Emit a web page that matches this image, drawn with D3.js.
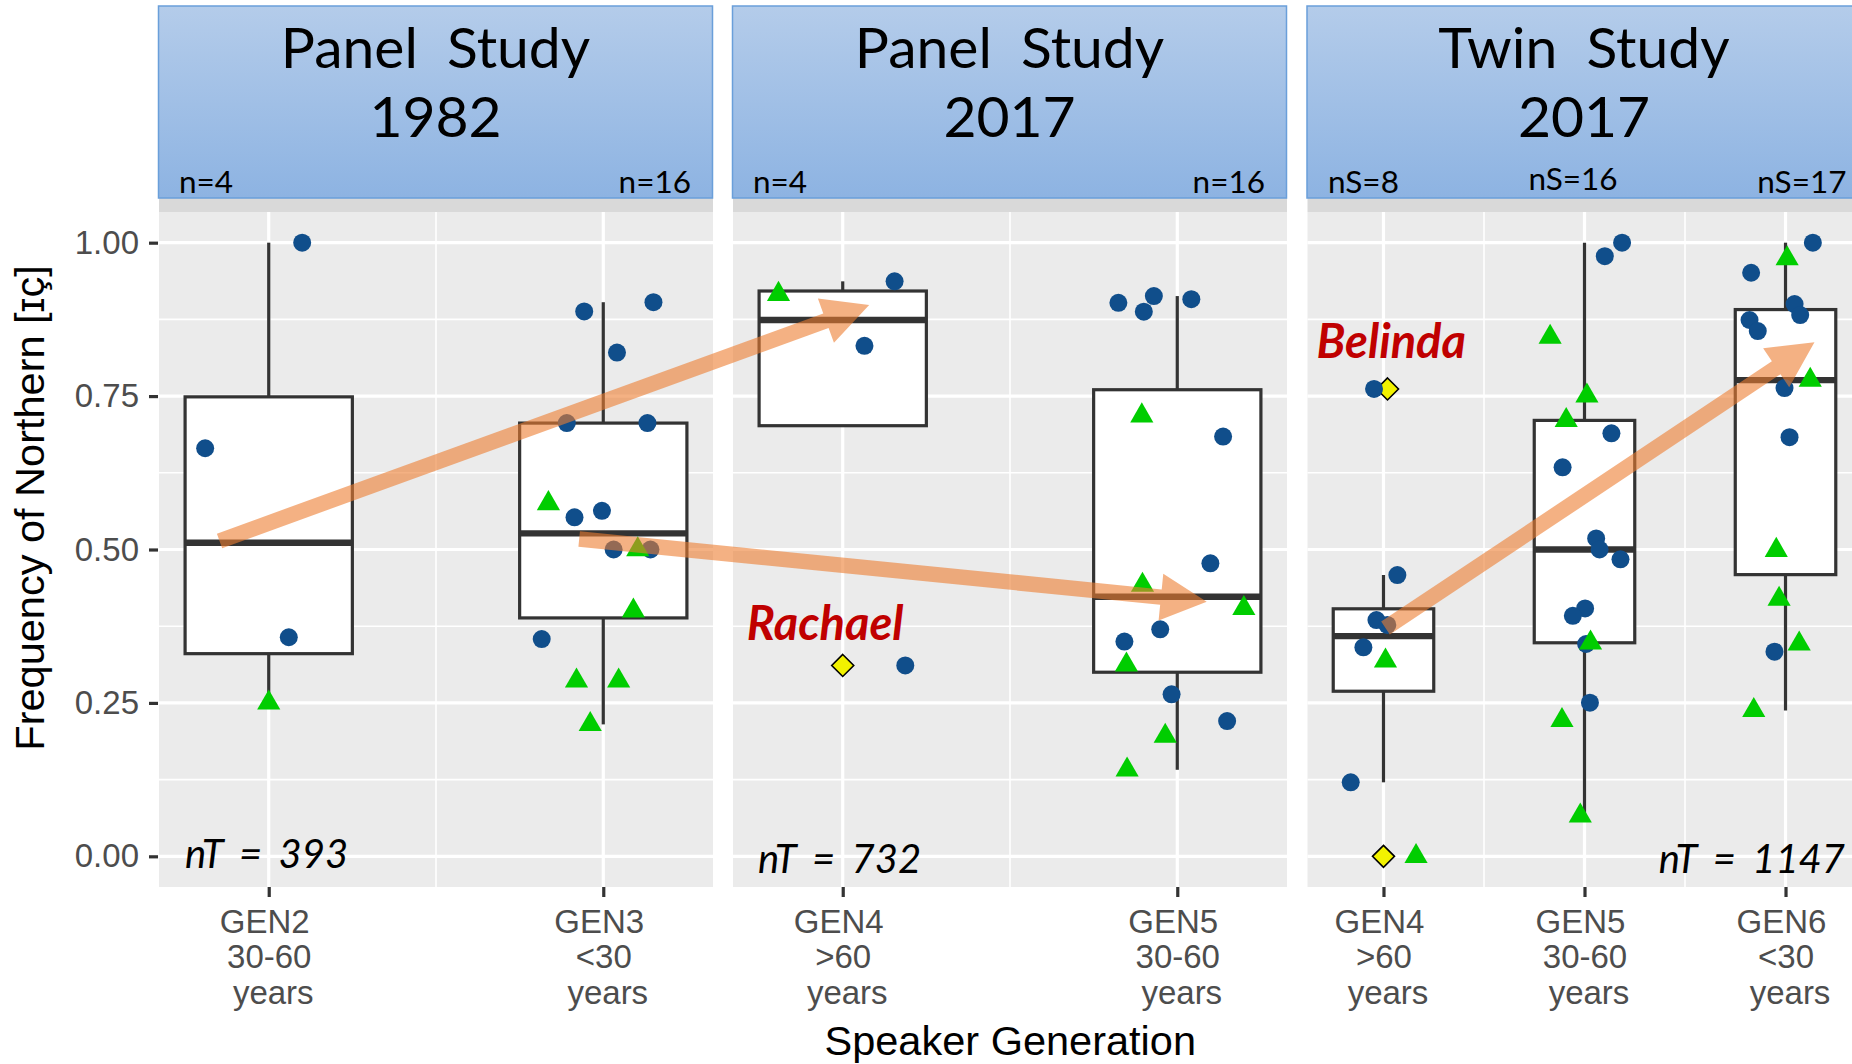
<!DOCTYPE html>
<html>
<head>
<meta charset="utf-8">
<script src="https://cdn.jsdelivr.net/npm/d3@7"></script>
<style>
  body { margin: 0; background: #ffffff; }
  svg { display: block; }
</style>
</head>
<body>
<svg id="chart" width="1852" height="1064"></svg>
<script>
// ---------------- data ----------------
const facetTitles = [["Panel  Study", "1982"], ["Panel  Study", "2017"], ["Twin  Study", "2017"]];
const facetCategories = [["GEN2", "GEN3"], ["GEN4", "GEN5"], ["GEN4", "GEN5", "GEN6"]];
const categoryLabels = [
  [["GEN2", "30-60", "years"], ["GEN3", "<30", "years"]],
  [["GEN4", ">60", "years"], ["GEN5", "30-60", "years"]],
  [["GEN4", ">60", "years"], ["GEN5", "30-60", "years"], ["GEN6", "<30", "years"]]
];
const speakerCounts = [["n=4", "n=16"], ["n=4", "n=16"], ["nS=8", "nS=16", "nS=17"]];
const tokenCounts = ["nT = 393", "nT = 732", "nT = 1147"];
const yTicks = [0, 0.25, 0.5, 0.75, 1];
const yTickLabels = ["0.00", "0.25", "0.50", "0.75", "1.00"];
const yTitle = "Frequency of Northern [\u026A\u00E7]";
const xTitle = "Speaker Generation";

// speaker values, first group (circles): [facet, category, jitter in category units, value]
const speakersCircle = [
  [0, "GEN2", 0.10, 1.00], [0, "GEN2", -0.19, 0.665], [0, "GEN2", 0.06, 0.357],
  [0, "GEN3", -0.057, 0.888], [0, "GEN3", 0.15, 0.903], [0, "GEN3", 0.041, 0.821],
  [0, "GEN3", -0.109, 0.706], [0, "GEN3", 0.132, 0.706], [0, "GEN3", -0.086, 0.5525],
  [0, "GEN3", -0.004, 0.563], [0, "GEN3", 0.031, 0.500], [0, "GEN3", 0.141, 0.500],
  [0, "GEN3", -0.184, 0.354],
  [1, "GEN4", 0.155, 0.937], [1, "GEN4", 0.065, 0.832], [1, "GEN4", 0.187, 0.311],
  [1, "GEN5", -0.176, 0.902], [1, "GEN5", -0.07, 0.913], [1, "GEN5", -0.10, 0.8875],
  [1, "GEN5", 0.042, 0.908], [1, "GEN5", 0.137, 0.684], [1, "GEN5", 0.099, 0.4775],
  [1, "GEN5", -0.051, 0.370], [1, "GEN5", -0.158, 0.350], [1, "GEN5", -0.017, 0.264],
  [1, "GEN5", 0.149, 0.2205],
  [2, "GEN4", -0.047, 0.7616], [2, "GEN4", 0.069, 0.4584], [2, "GEN4", -0.035, 0.385],
  [2, "GEN4", 0.019, 0.377], [2, "GEN4", -0.10, 0.3406], [2, "GEN4", -0.163, 0.1206],
  [2, "GEN5", 0.187, 1.00], [2, "GEN5", 0.101, 0.978], [2, "GEN5", 0.134, 0.6894],
  [2, "GEN5", -0.109, 0.634], [2, "GEN5", 0.058, 0.518], [2, "GEN5", 0.075, 0.500],
  [2, "GEN5", 0.179, 0.484], [2, "GEN5", 0.003, 0.404], [2, "GEN5", -0.058, 0.392],
  [2, "GEN5", 0.008, 0.346], [2, "GEN5", 0.027, 0.2503],
  [2, "GEN6", 0.136, 1.00], [2, "GEN6", -0.171, 0.951], [2, "GEN6", 0.045, 0.900],
  [2, "GEN6", 0.073, 0.882], [2, "GEN6", -0.179, 0.874], [2, "GEN6", -0.138, 0.856],
  [2, "GEN6", -0.005, 0.763], [2, "GEN6", 0.02, 0.683], [2, "GEN6", -0.055, 0.3335]
];

// speaker values, second group (triangles): [facet, category, jitter in category units, value]
const speakersTriangle = [
  [0, "GEN2", 0.0, 0.25],
  [0, "GEN3", -0.164, 0.575], [0, "GEN3", 0.103, 0.500], [0, "GEN3", 0.09, 0.400],
  [0, "GEN3", -0.08, 0.286], [0, "GEN3", 0.046, 0.286], [0, "GEN3", -0.039, 0.215],
  [1, "GEN4", -0.192, 0.916],
  [1, "GEN5", -0.106, 0.718], [1, "GEN5", -0.104, 0.442], [1, "GEN5", 0.199, 0.404],
  [1, "GEN5", -0.152, 0.312], [1, "GEN5", -0.036, 0.196], [1, "GEN5", -0.15, 0.141],
  [2, "GEN4", 0.01, 0.3185], [2, "GEN4", 0.162, 0.00],
  [2, "GEN5", -0.171, 0.846], [2, "GEN5", 0.012, 0.7503], [2, "GEN5", -0.091, 0.7104],
  [2, "GEN5", 0.03, 0.348], [2, "GEN5", -0.112, 0.2215], [2, "GEN5", -0.021, 0.066],
  [2, "GEN6", 0.008, 0.974], [2, "GEN6", 0.123, 0.776], [2, "GEN6", -0.046, 0.4988],
  [2, "GEN6", -0.032, 0.4193], [2, "GEN6", 0.068, 0.3463], [2, "GEN6", -0.158, 0.2378]
];

// named individuals: [name, facet, category, jitter, value, labelled]
const namedSpeakers = [
  ["Rachael", 1, "GEN4", 0.0, 0.311, true],
  ["Belinda", 2, "GEN4", 0.02, 0.7616, true],
  ["Belinda", 2, "GEN4", 0.0, 0.00, false]
];

// trend arrows: from / to as [facet, category, jitter, value]
const trendFrom = [[0, "GEN2", -0.147, 0.514], [0, "GEN3", -0.072, 0.517], [2, "GEN4", 0.01, 0.372]];
const trendTo   = [[1, "GEN4", 0.079, 0.8985], [1, "GEN5", 0.088, 0.415], [2, "GEN6", 0.144, 0.8377]];

// ---------------- layout ----------------
const svg = d3.select("#chart");
const facetLeft = [159, 733, 1307.5];
const facetWidth = 554;
const panelTop = 212, panelBottom = 887;
const outerPad = [0.328, 0.328, 0.378];

const FONT_AXIS = "'Liberation Sans', Arial, sans-serif";
const FONT_NOTE = "Lato, 'Open Sans', sans-serif";
const INK = "#333333";
const COL_CIRCLE = "#104E8B";
const COL_TRI = "#00CD00";

const y = d3.scaleLinear().domain([-0.05, 1.05]).range([panelBottom, panelTop]);
const xScales = facetCategories.map((cats, i) =>
  d3.scalePoint().domain(cats).range([facetLeft[i], facetLeft[i] + facetWidth]).padding(outerPad[i]));
const px = (f, cat, j) => xScales[f](cat) + j * xScales[f].step();

const defs = svg.append("defs");
const grad = defs.append("linearGradient").attr("id", "hdrGrad")
  .attr("x1", 0).attr("y1", 0).attr("x2", 0).attr("y2", 1);
grad.append("stop").attr("offset", "0%").attr("stop-color", "#B4CCEA");
grad.append("stop").attr("offset", "100%").attr("stop-color", "#8DB3E2");

// ---------------- panels & grid ----------------
const panels = svg.append("g");
facetCategories.forEach((cats, f) => {
  const x0 = facetLeft[f], x1 = x0 + facetWidth;
  const g = panels.append("g");
  g.append("rect").attr("x", x0).attr("y", panelTop).attr("width", facetWidth)
    .attr("height", panelBottom - panelTop).attr("fill", "#EBEBEB");
  // strip band under the header
  g.append("rect").attr("x", x0).attr("y", 180).attr("width", facetWidth)
    .attr("height", panelTop - 180).attr("fill", "#D9D9D9");

  const minorY = d3.pairs(yTicks).map(([a, b]) => (a + b) / 2);
  g.selectAll(".minorY").data(minorY).join("line")
    .attr("x1", x0).attr("x2", x1).attr("y1", d => y(d)).attr("y2", d => y(d))
    .attr("stroke", "#fff").attr("stroke-width", 1.6);
  const minorX = d3.pairs(cats).map(([a, b]) => (xScales[f](a) + xScales[f](b)) / 2);
  g.selectAll(".minorX").data(minorX).join("line")
    .attr("x1", d => d).attr("x2", d => d).attr("y1", panelTop).attr("y2", panelBottom)
    .attr("stroke", "#fff").attr("stroke-width", 1.6);
  g.selectAll(".majorY").data(yTicks).join("line")
    .attr("x1", x0).attr("x2", x1).attr("y1", d => y(d)).attr("y2", d => y(d))
    .attr("stroke", "#fff").attr("stroke-width", 3.2);
  g.selectAll(".majorX").data(cats).join("line")
    .attr("x1", d => xScales[f](d)).attr("x2", d => xScales[f](d))
    .attr("y1", panelTop).attr("y2", panelBottom)
    .attr("stroke", "#fff").attr("stroke-width", 3.2);
});

// ---------------- boxplots ----------------
function boxStats(vals) {
  const s = vals.slice().sort(d3.ascending);
  const q1 = d3.quantileSorted(s, 0.25), med = d3.quantileSorted(s, 0.5), q3 = d3.quantileSorted(s, 0.75);
  const iqr = q3 - q1;
  const lo = d3.min(s.filter(v => v >= q1 - 1.5 * iqr));
  const hi = d3.max(s.filter(v => v <= q3 + 1.5 * iqr));
  return { q1, med, q3, lo, hi };
}
const allSpeakers = speakersCircle.concat(speakersTriangle);
const boxes = [];
facetCategories.forEach((cats, f) => cats.forEach(cat => {
  const vals = allSpeakers.filter(d => d[0] === f && d[1] === cat).map(d => d[3]);
  boxes.push({ f, cat, ...boxStats(vals) });
}));

const boxG = svg.append("g");
boxes.forEach(b => {
  const cx = xScales[b.f](b.cat), hw = 0.25 * xScales[b.f].step();
  boxG.append("line").attr("x1", cx).attr("x2", cx).attr("y1", y(b.q3)).attr("y2", y(b.hi))
    .attr("stroke", INK).attr("stroke-width", 3.2);
  boxG.append("line").attr("x1", cx).attr("x2", cx).attr("y1", y(b.q1)).attr("y2", y(b.lo))
    .attr("stroke", INK).attr("stroke-width", 3.2);
  boxG.append("rect").attr("x", cx - hw).attr("y", y(b.q3)).attr("width", 2 * hw)
    .attr("height", y(b.q1) - y(b.q3)).attr("fill", "#fff")
    .attr("stroke", INK).attr("stroke-width", 3.2);
  boxG.append("line").attr("x1", cx - hw).attr("x2", cx + hw).attr("y1", y(b.med)).attr("y2", y(b.med))
    .attr("stroke", INK).attr("stroke-width", 6.4);
});

// ---------------- named speakers (diamonds) ----------------
const namedG = svg.append("g");
const dia = 11;
namedSpeakers.forEach(d => {
  const cx = px(d[1], d[2], d[3]), cy = y(d[4]);
  namedG.append("path")
    .attr("d", `M${cx},${cy - dia}L${cx + dia},${cy}L${cx},${cy + dia}L${cx - dia},${cy}Z`)
    .attr("fill", "#F2F200").attr("stroke", "#000").attr("stroke-width", 1.6);
});

// ---------------- speaker points ----------------
const ptG = svg.append("g");
ptG.selectAll("circle").data(speakersCircle).join("circle")
  .attr("cx", d => px(d[0], d[1], d[2])).attr("cy", d => y(d[3]))
  .attr("r", 9).attr("fill", COL_CIRCLE);
const R = 8.6;
const triPath = `M0,${-1.555 * R}L${1.347 * R},${0.778 * R}L${-1.347 * R},${0.778 * R}Z`;
ptG.selectAll("path.tri").data(speakersTriangle).join("path").attr("class", "tri")
  .attr("d", triPath)
  .attr("transform", d => `translate(${px(d[0], d[1], d[2])},${y(d[3])})`)
  .attr("fill", COL_TRI);

// ---------------- name labels ----------------
const nameOffset = { Rachael: [-96, -25], Belinda: [-71, -31] };
namedSpeakers.filter(d => d[5]).forEach(d => {
  const cx = px(d[1], d[2], d[3]), cy = y(d[4]);
  const off = nameOffset[d[0]];
  svg.append("text").attr("x", cx + off[0]).attr("y", cy + off[1])
    .attr("font-family", FONT_NOTE).attr("font-weight", 700).attr("font-style", "italic")
    .attr("font-size", 47).attr("fill", "#C00000").text(d[0]);
});

// ---------------- token counts ----------------
const tokenPos = [[26, 868, "start"], [25, 873, "start"], [537.5, 873, "end"]];
tokenCounts.forEach((t, f) => {
  svg.append("text").attr("x", facetLeft[f] + tokenPos[f][0]).attr("y", tokenPos[f][1])
    .attr("text-anchor", tokenPos[f][2])
    .attr("font-family", FONT_NOTE).attr("font-style", "italic").attr("font-size", 40)
    .attr("word-spacing", 7).attr("fill", "#000").text(t);
});

// ---------------- axes ----------------
const yAxis = d3.axisLeft(y).tickValues(yTicks).tickFormat((d, i) => yTickLabels[i])
  .tickSize(9).tickPadding(10);
const yG = svg.append("g").attr("transform", `translate(${facetLeft[0] - 1},0)`).call(yAxis);
yG.select(".domain").remove();
yG.selectAll(".tick line").attr("stroke", INK).attr("stroke-width", 3.2);
yG.selectAll(".tick text").attr("font-family", FONT_AXIS).attr("font-size", 33).attr("fill", "#4D4D4D");

const lineShift = [-4.5, 0, 4];
facetCategories.forEach((cats, f) => {
  const xAxis = d3.axisBottom(xScales[f]).tickSize(10).tickFormat("");
  const g = svg.append("g").attr("transform", `translate(0,${panelBottom})`).call(xAxis);
  g.select(".domain").remove();
  g.selectAll(".tick line").attr("stroke", INK).attr("stroke-width", 3.2);
  g.selectAll(".tick text").remove();
  g.selectAll(".tick").each(function (cat, i) {
    const lines = categoryLabels[f][i];
    const t = d3.select(this).append("text").attr("text-anchor", "middle")
      .attr("font-family", FONT_AXIS).attr("font-size", 33).attr("fill", "#4D4D4D");
    lines.forEach((ln, k) => t.append("tspan").attr("x", lineShift[k]).attr("y", 45.5 + k * 35.7).text(ln));
  });
});

svg.append("text").attr("x", (facetLeft[0] + facetLeft[2] + facetWidth) / 2).attr("y", 1055)
  .attr("text-anchor", "middle").attr("font-family", FONT_AXIS).attr("font-size", 41.5)
  .attr("fill", "#000").text(xTitle);
svg.append("text").attr("transform", "translate(44,508) rotate(-90)")
  .attr("text-anchor", "middle").attr("font-family", FONT_AXIS).attr("font-size", 41.5)
  .attr("fill", "#000").text(yTitle);

// ---------------- trend arrows ----------------
function arrowPath(S, T, w, L, Wh) {
  const dx = T[0] - S[0], dy = T[1] - S[1], len = Math.hypot(dx, dy);
  const ux = dx / len, uy = dy / len, nx = -uy, ny = ux;
  const B = [T[0] - L * ux, T[1] - L * uy];
  const pts = [
    [S[0] + nx * w / 2, S[1] + ny * w / 2], [B[0] + nx * w / 2, B[1] + ny * w / 2],
    [B[0] + nx * Wh / 2, B[1] + ny * Wh / 2], T,
    [B[0] - nx * Wh / 2, B[1] - ny * Wh / 2], [B[0] - nx * w / 2, B[1] - ny * w / 2],
    [S[0] - nx * w / 2, S[1] - ny * w / 2]
  ];
  return d3.line()(pts) + "Z";
}
const arrowG = svg.append("g");
trendFrom.forEach((a, i) => {
  const b = trendTo[i];
  const S = [px(a[0], a[1], a[2]), y(a[3])];
  const T = [px(b[0], b[1], b[2]), y(b[3])];
  arrowG.append("path").attr("d", arrowPath(S, T, 15.5, 46, 47))
    .attr("fill", "#ED7D31").attr("fill-opacity", 0.6);
});

// ---------------- facet headers ----------------
const hdrG = svg.append("g");
facetTitles.forEach((lines, f) => {
  const x0 = facetLeft[f] - 0.5, x1 = facetLeft[f] + facetWidth - 0.5;
  hdrG.append("rect").attr("x", x0).attr("y", 6).attr("width", x1 - x0).attr("height", 192)
    .attr("fill", "url(#hdrGrad)").attr("stroke", "#6A9FDA").attr("stroke-width", 1.5);
  const cx = (x0 + x1) / 2;
  lines.forEach((ln, k) => {
    hdrG.append("text").attr("x", cx).attr("y", 68.3 + k * 68.4).attr("text-anchor", "middle")
      .attr("font-family", FONT_NOTE).attr("font-size", 57).attr("fill", "#000")
      .attr("xml:space", "preserve").style("white-space", "pre").text(ln);
  });
  const counts = speakerCounts[f];
  const pos = counts.length === 2
    ? [[x0 + 20.5, "start"], [x1 - 21.5, "end"]]
    : [[x0 + 21, "start"], [cx - 11, "middle"], [x1 - 14.5, "end"]];
  counts.forEach((c, k) => {
    hdrG.append("text").attr("x", pos[k][0]).attr("y", counts.length === 3 && k === 1 ? 190 : 192.5)
      .attr("text-anchor", pos[k][1]).attr("font-family", FONT_NOTE).attr("font-size", 31.5)
      .attr("fill", "#000").text(c);
  });
});
</script>
</body>
</html>
